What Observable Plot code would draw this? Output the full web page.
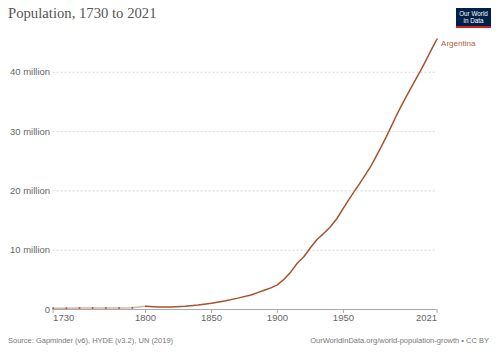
<!DOCTYPE html>
<html>
<head>
<meta charset="utf-8">
<script src="https://cdn.jsdelivr.net/npm/d3@7"></script>
<script src="https://cdn.jsdelivr.net/npm/@observablehq/plot@0.6"></script>
<style>
  html, body { margin: 0; padding: 0; background: #fff; }
  #wrap { position: relative; width: 500px; height: 353px; overflow: hidden; font-family: "Liberation Sans", Arial, sans-serif; }
  #title { position: absolute; left: 8px; top: 5px; font-family: "Liberation Serif", serif; font-size: 14.7px; color: #555; white-space: nowrap; }
  #logo { position: absolute; left: 456px; top: 8px; width: 35px; background: #002147; border-bottom: 2px solid #ce261e; color: #fff; font-size: 6.3px; line-height: 7px; text-align: center; padding-top: 2px; box-sizing: content-box; height: 16px; }
  #chart { position: absolute; left: 0; top: 30px; }
  #src { position: absolute; left: 8px; top: 336px; font-size: 7.5px; color: #777; white-space: nowrap; }
  #lic { position: absolute; right: 11px; top: 336px; font-size: 7.5px; color: #777; white-space: nowrap; }
</style>
</head>
<body>
<div id="wrap">
  <div id="title">Population, 1730 to 2021</div>
  <div id="logo">Our World<br>in Data</div>
  <div id="chart"></div>
  <div id="src">Source: Gapminder (v6), HYDE (v3.2), UN (2019)</div>
  <div id="lic">OurWorldInData.org/world-population-growth • CC BY</div>
</div>
<script>
// Early (sparse, decadal) estimates
const earlyYears = [1730, 1740, 1750, 1760, 1770, 1780, 1790];
const earlyPop   = [0.22, 0.23, 0.24, 0.25, 0.26, 0.27, 0.29]; // millions

// Main series
const years = [1800, 1810, 1820, 1830, 1840, 1850, 1860, 1870, 1880, 1885, 1890, 1895,
  1900, 1905, 1910, 1915, 1920, 1925, 1930, 1935, 1940, 1945,
  1950, 1951, 1952, 1953, 1954, 1955, 1956, 1957, 1958, 1959,
  1960, 1961, 1962, 1963, 1964, 1965, 1966, 1967, 1968, 1969,
  1970, 1971, 1972, 1973, 1974, 1975, 1976, 1977, 1978, 1979,
  1980, 1981, 1982, 1983, 1984, 1985, 1986, 1987, 1988, 1989,
  1990, 1991, 1992, 1993, 1994, 1995, 1996, 1997, 1998, 1999,
  2000, 2001, 2002, 2003, 2004, 2005, 2006, 2007, 2008, 2009,
  2010, 2011, 2012, 2013, 2014, 2015, 2016, 2017, 2018, 2019,
  2020, 2021];
const population = [0.54, 0.42, 0.43, 0.56, 0.74, 1.06, 1.45, 1.92, 2.45, 2.85, 3.25, 3.65,
  4.15, 5.1, 6.3, 7.8, 8.9, 10.4, 11.8, 12.8, 13.9, 15.3,
  17.09, 17.44, 17.79, 18.14, 18.48, 18.82, 19.16, 19.50, 19.83, 20.16,
  20.48, 20.81, 21.15, 21.49, 21.82, 22.16, 22.50, 22.84, 23.19, 23.53,
  23.88, 24.26, 24.66, 25.07, 25.49, 25.91, 26.33, 26.75, 27.17, 27.60,
  28.02, 28.46, 28.91, 29.36, 29.82, 30.28, 30.75, 31.22, 31.69, 32.16,
  32.62, 33.07, 33.51, 33.95, 34.38, 34.81, 35.23, 35.64, 36.06, 36.46,
  36.87, 37.28, 37.68, 38.07, 38.47, 38.88, 39.29, 39.68, 40.08, 40.48,
  40.90, 41.32, 41.76, 42.20, 42.64, 43.08, 43.51, 43.94, 44.36, 44.78,
  45.20, 45.61]; // millions

const countryName = "Argentina";
const yTicks = [0, 10, 20, 30, 40];
const xTicksMid = [1800, 1850, 1900, 1950];
const xTickFirst = [1730];
const xTickLast = [2021];

const early = earlyYears.map((y, i) => ({year: y, pop: earlyPop[i] * 1e6}));
const main = years.map((y, i) => ({year: y, pop: population[i] * 1e6}));
const earlyLine = early.concat([main[0]]);
const last = main[main.length - 1];

const color = "#a4532f";

const chart = Plot.plot({
  width: 500,
  height: 300,
  marginTop: 8.5,
  marginBottom: 21,
  marginLeft: 52.6,
  marginRight: 63.4,
  x: {domain: [1730, 2021]},
  y: {domain: [0, 45.61e6]},
  style: {fontFamily: "'Liberation Sans', Arial, sans-serif", fontSize: "9.5px", color: "#666", background: "transparent"},
  marks: [
    Plot.gridY(yTicks.map(d => d * 1e6), {stroke: "#d6d6d6", strokeOpacity: 1, strokeDasharray: "2,2"}),
    Plot.axisY(yTicks.map(d => d * 1e6), {tickSize: 0, tickPadding: 3, label: null, fill: "#666",
      tickFormat: d => d === 0 ? "0" : (d / 1e6) + " million"}),
    Plot.ruleY([0], {stroke: "#aaa"}),
    Plot.axisX(xTicksMid, {tickSize: 4, tickPadding: 1, label: null, tickFormat: d => String(d), stroke: "#aaa", fill: "#666"}),
    Plot.axisX(xTickFirst, {tickSize: 4, tickPadding: 1, label: null, textAnchor: "start", tickFormat: d => String(d), stroke: "#aaa", fill: "#666"}),
    Plot.axisX(xTickLast, {tickSize: 4, tickPadding: 1, label: null, textAnchor: "end", tickFormat: d => String(d), stroke: "#aaa", fill: "#666"}),
    Plot.line(earlyLine, {x: "year", y: "pop", stroke: color, strokeOpacity: 0.45, strokeWidth: 1.5}),
    Plot.dot(early, {x: "year", y: "pop", r: 1, fill: color, fillOpacity: 0.9}),
    Plot.line(main, {x: "year", y: "pop", stroke: color, strokeWidth: 1.5}),
    Plot.text([last], {x: "year", y: "pop", text: () => countryName, dx: 4, dy: 4, textAnchor: "start", fill: "#b0603e", fontSize: 8})
  ]
});
document.getElementById("chart").appendChild(chart);
</script>
</body>
</html>
